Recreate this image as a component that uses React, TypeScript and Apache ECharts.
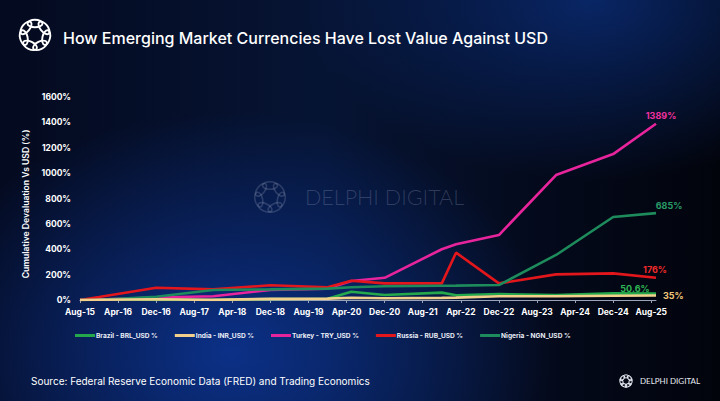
import React, { useEffect, useRef } from "react";
import * as echarts from "echarts";

const MONTH_NAMES = ["Jan", "Feb", "Mar", "Apr", "May", "Jun", "Jul", "Aug", "Sep", "Oct", "Nov", "Dec"];
const FIRST_MONTH = "Aug-15";
const LAST_MONTH = "Sep-25";

const dates = ["Aug-15", "Dec-15", "Dec-16", "Dec-17", "Dec-18", "Dec-19", "May-20", "Dec-20", "Dec-21", "Mar-22", "Dec-22", "Dec-23", "Dec-24", "Sep-25"];
const brazil = [0, 6, 0, 2, 8, 10, 65, 40, 58, 38, 47, 40, 52, 50.6];
const india = [0, 2, 6, 1, 9, 11, 18, 14, 17, 19, 29, 30, 34, 35];
const turkey = [0, 4, 20, 30, 80, 90, 150, 175, 400, 440, 512, 985, 1150, 1389];
const russia = [0, 24, 97, 84, 116, 100, 152, 131, 131, 373, 131, 202, 210, 176];
const nigeria = [0, 2, 26, 79, 84, 90, 100, 108, 112, 113, 118, 355, 654, 685];

const seriesNames = ["Brazil - BRL_USD %", "India - INR_USD %", "Turkey - TRY_USD %", "Russia - RUB_USD %", "Nigeria - NGN_USD %"];
const endLabels = ["50.6%", "35%", "1389%", "176%", "685%"];

function buildMonths(first: string, last: string): string[] {
  const parse = (s: string) => {
    const [m, y] = s.split("-");
    return (2000 + Number(y)) * 12 + MONTH_NAMES.indexOf(m);
  };
  const out: string[] = [];
  for (let k = parse(first); k <= parse(last); k++) {
    const y = Math.floor(k / 12);
    out.push(MONTH_NAMES[k % 12] + "-" + String(y % 100).padStart(2, "0"));
  }
  return out;
}

const categories = buildMonths(FIRST_MONTH, LAST_MONTH);

function logo(cx: number, cy: number, scale: number, color: string, lw: number) {
  const children: any[] = [];
  const n = 7;
  for (let i = 0; i < n; i++) {
    const th = (i / n) * Math.PI * 2 - Math.PI / 2;
    children.push({
      type: "ellipse",
      x: cx + 11.5 * scale * Math.cos(th),
      y: cy + 11.5 * scale * Math.sin(th),
      rotation: -(th + Math.PI / 2),
      shape: { cx: 0, cy: 0, rx: 7.5 * scale, ry: 3.8 * scale },
      style: { fill: "none", stroke: color, lineWidth: lw },
      silent: true,
    });
  }
  return { type: "group", children };
}

const FONT = "Inter, 'Noto Sans', sans-serif";

export default function App() {
  const ref = useRef<HTMLDivElement>(null);
  useEffect(() => {
    if (!ref.current) return;
    const chart = echarts.init(ref.current, undefined, { renderer: "svg" });
    const colors = ["#25a84c", "#f2d08c", "#e8249c", "#e3161c", "#1d8b5b"];
    const labelCfg = [
      { position: "top", offset: [-21, 4], color: "#2fb553" },
      { position: "right", offset: [2, 0], color: "#f3c878" },
      { position: "top", offset: [5, 1], color: "#f0309f" },
      { position: "top", offset: [-1, 1], color: "#f02a2a" },
      { position: "top", offset: [13, 2], color: "#2a9c68" },
    ];
    const values = [brazil, india, turkey, russia, nigeria];
    const series = values.map((vals, si) => ({
      name: seriesNames[si],
      type: "line",
      showSymbol: true,
      showAllSymbol: true,
      symbol: "circle",
      symbolSize: 0,
      lineStyle: { width: 2.6, color: colors[si] },
      itemStyle: { color: colors[si] },
      z: si === 1 ? 3 : 2,
      data: dates.map((d, i) => {
        if (i === dates.length - 1) {
          return {
            value: [d, vals[i]],
            label: {
              show: true,
              formatter: endLabels[si],
              position: labelCfg[si].position,
              offset: labelCfg[si].offset,
              color: labelCfg[si].color,
              fontSize: 9,
              fontWeight: "bold",
              fontFamily: FONT,
            },
          };
        }
        return [d, vals[i]];
      }),
    }));

    chart.setOption({
      animation: false,
      backgroundColor: "transparent",
      color: colors,
      title: {
        text: "How Emerging Market Currencies Have Lost Value Against USD",
        left: 58,
        top: 25,
        textStyle: { color: "#ffffff", fontSize: 16, fontWeight: 500, fontFamily: FONT },
      },
      grid: { left: 80, right: 64, top: 97, bottom: 101, containLabel: false },
      legend: {
        left: 70,
        top: 327,
        itemWidth: 20,
        itemHeight: 3,
        itemGap: 17,
        icon: "rect",
        textStyle: { color: "#e9edf6", fontSize: 6.6, fontWeight: "bold", fontFamily: FONT, padding: [0, 0, 0, -4] },
        data: seriesNames,
      },
      xAxis: {
        type: "category",
        data: categories,
        boundaryGap: false,
        axisLine: { lineStyle: { color: "#9aa3b8", width: 1 } },
        axisTick: { show: true, interval: 7, length: 3, lineStyle: { color: "#9aa3b8" } },
        axisLabel: { interval: 7, color: "#ffffff", fontSize: 8.5, fontWeight: "bold", fontFamily: FONT, margin: 7 },
        splitLine: { show: false },
      },
      yAxis: {
        type: "value",
        min: 0,
        max: 1600,
        interval: 200,
        name: "Cumulative Devaluation Vs USD (%)",
        nameLocation: "middle",
        nameGap: 45,
        nameTextStyle: { color: "#ffffff", fontSize: 8.6, fontWeight: 600, fontFamily: FONT, padding: [0, 0, 0, -11] },
        axisLine: { show: false },
        axisTick: { show: false },
        splitLine: { show: false },
        axisLabel: {
          formatter: (v: number) => v + "%",
          color: "#ffffff",
          fontSize: 8.5,
          fontWeight: "bold",
          fontFamily: FONT,
          margin: 9,
        },
      },
      graphic: [
        logo(35, 35, 1, "#ffffff", 1.9),
        logo(270, 197, 1, "rgba(140,150,180,0.28)", 1.6),
        {
          type: "text",
          x: 305,
          y: 197,
          silent: true,
          style: {
            text: "DELPHI DIGITAL",
            fill: "rgba(150,160,190,0.28)",
            fontSize: 21.5,
            fontWeight: 300,
            fontFamily: "Lato, sans-serif",
            textVerticalAlign: "middle",
          },
        },
        {
          type: "text",
          x: 31,
          y: 381,
          style: {
            text: "Source: Federal Reserve Economic Data (FRED) and Trading Economics",
            fill: "#ffffff",
            fontSize: 10,
            fontFamily: FONT,
            textVerticalAlign: "middle",
          },
        },
        logo(626, 381, 0.4, "#e6eaf2", 1),
        {
          type: "text",
          x: 640,
          y: 381,
          style: {
            text: "DELPHI DIGITAL",
            fill: "#e6eaf2",
            fontSize: 8,
            fontFamily: "Lato, sans-serif",
            textVerticalAlign: "middle",
          },
        },
      ],
      series,
    });
    return () => chart.dispose();
  }, []);

  return (
    <div
      style={{
        position: "absolute",
        left: 0,
        top: 0,
        width: 720,
        height: 401,
        overflow: "hidden",
        background:
          "radial-gradient(ellipse 45% 60% at 32% 88%, rgba(12,50,140,0.95) 0%, rgba(10,40,110,0) 100%), radial-gradient(ellipse 40% 45% at 82% 0%, rgba(10,45,120,0.8) 0%, rgba(10,40,110,0) 100%), linear-gradient(90deg, #040a1f 0%, #061434 45%, #040a1c 75%, #02040c 100%)",
      }}
    >
      <div ref={ref} style={{ width: 720, height: 401 }} />
    </div>
  );
}
